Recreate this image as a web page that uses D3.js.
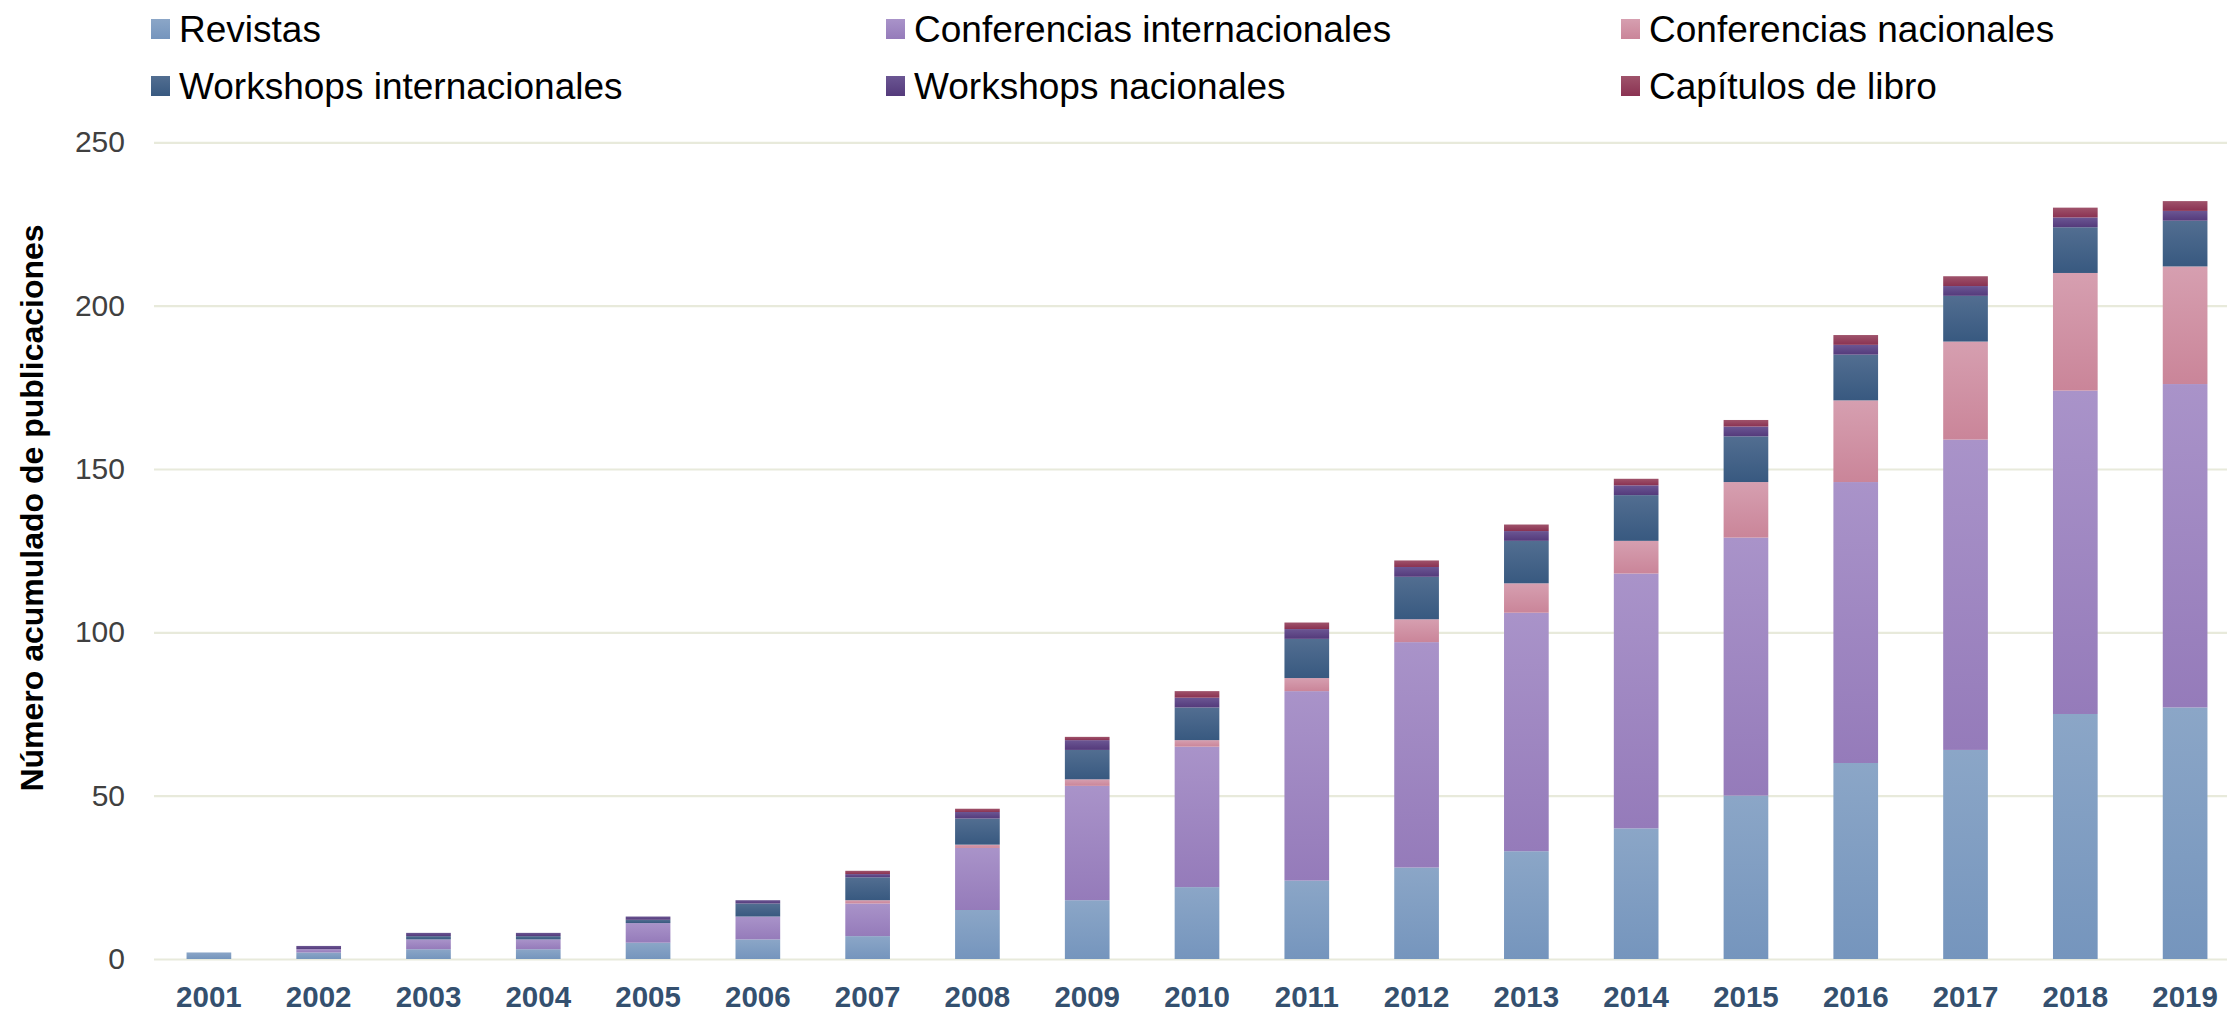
<!DOCTYPE html>
<html lang="es">
<head>
    <meta charset="UTF-8">
    <title>Publicaciones acumuladas</title>
    <style>
        body {
            margin: 0;
            background: #ffffff;
        }
        svg {
            display: block;
            font-family: "Liberation Sans", Arial, sans-serif;
        }
    </style>
</head>
<body>
<svg></svg>
<script src="https://d3js.org/d3.v7.min.js"></script>

<script>
    // datos acumulados por año
    var years = ["2001", "2002", "2003", "2004", "2005", "2006", "2007", "2008", "2009", "2010",
        "2011", "2012", "2013", "2014", "2015", "2016", "2017", "2018", "2019"];
    var revistas = [2, 2, 3, 3, 5, 6, 7, 15, 18, 22, 24, 28, 33, 40, 50, 60, 64, 75, 77];
    var confInternacionales = [0, 1, 3, 3, 6, 7, 10, 19, 35, 43, 58, 69, 73, 78, 79, 86, 95, 99, 99];
    var confNacionales = [0, 0, 0, 0, 0, 0, 1, 1, 2, 2, 4, 7, 9, 10, 17, 25, 30, 36, 36];
    var wsInternacionales = [0, 0, 1, 1, 1, 4, 7, 8, 9, 10, 12, 13, 13, 14, 14, 14, 14, 14, 14];
    var wsNacionales = [0, 1, 1, 1, 1, 1, 1, 2, 3, 3, 3, 3, 3, 3, 3, 3, 3, 3, 3];
    var capitulos = [0, 0, 0, 0, 0, 0, 1, 1, 1, 2, 2, 2, 2, 2, 2, 3, 3, 3, 3];
    var seriesNames = ["Revistas", "Conferencias internacionales", "Conferencias nacionales",
        "Workshops internacionales", "Workshops nacionales", "Capítulos de libro"];
    var yTicks = [0, 50, 100, 150, 200, 250];

    var width = 2227;
    var height = 1012;
    var plotLeft = 154, plotRight = 2240, plotTop = 142.3, plotBottom = 959;

    // colores (arriba claro, abajo oscuro)
    var colorsTop = ["#8ba6c7", "#a993c9", "#d69fb0", "#526e91", "#6b5693", "#9f536b"];
    var colorsBottom = ["#7595bd", "#957bba", "#ca8599", "#385980", "#543a7b", "#8a3252"];

    var allSeries = [revistas, confInternacionales, confNacionales, wsInternacionales, wsNacionales, capitulos];
    var table = years.map(function (y, i) {
        var row = {year: y};
        seriesNames.forEach(function (name, k) {
            row[name] = allSeries[k][i];
        });
        return row;
    });

    var stacked = d3.stack().keys(seriesNames)(table);

    var xScale = d3.scaleBand().domain(years).range([plotLeft, plotRight])
        .paddingInner(0.593).paddingOuter(0.2965);
    var yScale = d3.scaleLinear().domain([0, 250]).range([plotBottom, plotTop]);

    var svg = d3.select("svg")
        .attr("width", width)
        .attr("height", height);

    var defs = svg.append("defs");
    seriesNames.forEach(function (name, k) {
        var grad = defs.append("linearGradient")
            .attr("id", "grad" + k)
            .attr("x1", 0).attr("y1", 0)
            .attr("x2", 0).attr("y2", 1);
        grad.append("stop").attr("offset", "0%").attr("stop-color", colorsTop[k]);
        grad.append("stop").attr("offset", "100%").attr("stop-color", colorsBottom[k]);
    });

    // eje y con lineas de cuadricula
    var yAxis = svg.append("g")
        .attr("transform", "translate(" + plotLeft + ",0)")
        .call(d3.axisLeft(yScale).tickValues(yTicks).tickSize(-(plotRight - plotLeft)).tickPadding(29));
    yAxis.select(".domain").remove();
    yAxis.selectAll(".tick line")
        .attr("stroke", "#e8eadb")
        .attr("stroke-width", 2.2);
    yAxis.selectAll(".tick text")
        .attr("fill", "#404040")
        .style("font-size", "30px")
        .style("font-family", "'Liberation Sans', Arial, sans-serif");

    // barras apiladas
    svg.append("g")
        .selectAll("g")
        .data(stacked)
        .enter().append("g")
        .attr("fill", function (d, k) {
            return "url(#grad" + k + ")";
        })
        .selectAll("rect")
        .data(function (d) {
            return d;
        })
        .enter().append("rect")
        .attr("x", function (d) {
            return xScale(d.data.year);
        })
        .attr("y", function (d) {
            return yScale(d[1]);
        })
        .attr("width", xScale.bandwidth())
        .attr("height", function (d) {
            return yScale(d[0]) - yScale(d[1]);
        });

    // eje x
    var xAxis = svg.append("g")
        .attr("transform", "translate(0," + plotBottom + ")")
        .call(d3.axisBottom(xScale).tickSize(0).tickPadding(27));
    xAxis.select(".domain").remove();
    xAxis.selectAll(".tick text")
        .attr("fill", "#34506f")
        .style("font-size", "29.5px")
        .style("font-weight", "bold")
        .style("font-family", "'Liberation Sans', Arial, sans-serif");

    // titulo del eje y
    svg.append("text")
        .attr("transform", "translate(42.7,508) rotate(-90)")
        .attr("text-anchor", "middle")
        .style("font-size", "32px")
        .style("font-weight", "bold")
        .attr("fill", "#000000")
        .text("Número acumulado de publicaciones");

    // leyenda en dos filas
    var legendX = [151, 886, 1621];
    var legendY = [19, 76];
    var legend = svg.append("g")
        .selectAll("g")
        .data(seriesNames)
        .enter().append("g")
        .attr("transform", function (d, k) {
            return "translate(" + legendX[k % 3] + "," + legendY[Math.floor(k / 3)] + ")";
        });
    legend.append("rect")
        .attr("width", 19)
        .attr("height", 20)
        .attr("fill", function (d, k) {
            return "url(#grad" + k + ")";
        });
    legend.append("text")
        .attr("x", 28)
        .attr("y", 22.5)
        .style("font-size", "37px")
        .attr("fill", "#000000")
        .text(function (d) {
            return d;
        });
</script>
</body>
</html>
